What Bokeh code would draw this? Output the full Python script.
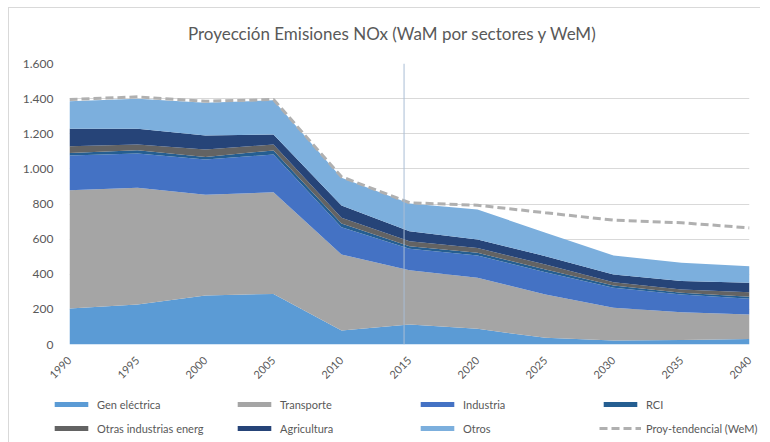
import math
from bokeh.plotting import figure
from bokeh.layouts import column
from bokeh.models import (ColumnDataSource, FixedTicker, Span, Legend, LegendItem, Range1d)
from bokeh.core.properties import value
from bokeh.embed import file_html
from bokeh.resources import INLINE

# ---------------- data ----------------
years = [1990, 1995, 2000, 2005, 2010, 2015, 2020, 2025, 2030, 2035, 2040]
gen_electrica = [205, 228, 279, 288, 80, 114, 89, 38, 23, 25, 32]
transporte = [674, 664, 573, 579, 432, 309, 291, 247, 186, 159, 139]
industria = [197, 195, 201, 215, 156, 122, 127, 127, 114, 101, 89]
rci = [15, 19, 15, 23, 21, 15, 15, 15, 13, 9, 12]
otras_ind = [38, 33, 42, 34, 32, 28, 28, 28, 19, 19, 26]
agricultura = [99, 89, 80, 57, 70, 57, 48, 48, 44, 48, 53]
otros = [157, 171, 186, 195, 158, 158, 171, 133, 108, 104, 95]
wem = [1395, 1410, 1385, 1395, 955, 807, 793, 750, 708, 693, 664]

series_names = ["gen", "transp", "ind", "rci", "otras", "agri", "otros"]
series_labels = ["Gen eléctrica", "Transporte", "Industria", "RCI",
                 "Otras industrias energ", "Agricultura", "Otros"]
series_colors = ["#5b9bd5", "#a5a5a5", "#4472c4", "#255e91",
                 "#636363", "#264478", "#7cafdd"]
wem_label = "Proy-tendencial (WeM)"
wem_color = "#b0b0b0"
y_ticks = [0, 200, 400, 600, 800, 1000, 1200, 1400, 1600]
y_tick_labels = ["0", "200", "400", "600", "800", "1.000", "1.200", "1.400", "1.600"]
x_ticks = years
marker_year = 2014.6
title_text = "Proyección Emisiones NOx (WaM por sectores y WeM)"

FONT = "Lato"
GREY = "#595959"
BORDER = "1px solid #d9d9d9"
W = 752

src = ColumnDataSource(dict(year=years, gen=gen_electrica, transp=transporte,
                            ind=industria, rci=rci, otras=otras_ind,
                            agri=agricultura, otros=otros, wem=wem))

# ---------------- title strip ----------------
TH = 48
pt = figure(width=W, height=TH, x_range=Range1d(0, W), y_range=Range1d(0, TH),
            output_backend="svg", toolbar_location=None,
            x_axis_location=None, y_axis_location=None,
            min_border=0)
pt.frame_align = False
pt.margin = (7, 0, 0, 8)
pt.styles = {"border-left": BORDER, "border-top": BORDER}
pt.outline_line_color = None
pt.grid.visible = False
pt.text(x=[383], y=[23], text=[title_text], text_font=value(FONT),
        text_font_size=value("17px"), text_align="center",
        text_baseline="middle", text_color=GREY)

# ---------------- main chart ----------------
p = figure(frame_width=679, frame_height=281,
           x_range=Range1d(1990, 2040), y_range=Range1d(0, 1600),
           output_backend="svg", toolbar_location=None,
           min_border_left=60, min_border_right=13,
           min_border_top=8, min_border_bottom=33)
p.margin = (0, 0, 0, 8)
p.styles = {"border-left": BORDER}
p.outline_line_color = None

areas = p.varea_stack(stackers=series_names, x="year", color=series_colors,
                      source=src)
wem_line = p.line(x="year", y="wem", source=src, line_color=wem_color,
                  line_width=3, line_dash="8 4")

p.add_layout(Span(location=marker_year, dimension="height",
                  line_color="#a9bdd6", line_width=1))

p.xgrid.grid_line_color = None
p.ygrid.grid_line_color = "#d9d9d9"
p.yaxis.ticker = FixedTicker(ticks=y_ticks)
p.yaxis.major_label_overrides = {t: l for t, l in zip(y_ticks, y_tick_labels)}
p.xaxis.ticker = FixedTicker(ticks=x_ticks)
p.xaxis.major_label_orientation = math.pi / 4
for ax in (p.xaxis, p.yaxis):
    ax.axis_line_color = None
    ax.major_tick_line_color = None
    ax.minor_tick_line_color = None
    ax.major_label_text_font = FONT
    ax.major_label_text_color = GREY
p.yaxis.major_label_text_font_size = "12px"
p.xaxis.major_label_text_font_size = "11px"
p.yaxis.major_label_standoff = 10
p.xaxis.major_label_standoff = 8

# ---------------- legend strip ----------------
LH = 60
pl = figure(width=W, height=LH, x_range=Range1d(0, W), y_range=Range1d(0, LH),
            output_backend="svg", toolbar_location=None,
            x_axis_location=None, y_axis_location=None, min_border=0)
pl.frame_align = False
pl.margin = (0, 0, 0, 8)
pl.styles = {"border-left": BORDER}
pl.outline_line_color = None
pl.grid.visible = False

# legend-only renderers, placed outside the visible range
items = []
for lab, col in zip(series_labels, series_colors):
    r = pl.varea(x=[-20, -10], y1=[0, 0], y2=[1, 1], fill_color=col)
    items.append(LegendItem(label=lab, renderers=[r]))
rl = pl.line(x=[-20, -10], y=[0, 0], line_color=wem_color, line_width=3,
             line_dash="8 4")
items.append(LegendItem(label=wem_label, renderers=[rl]))

legend = Legend(items=items, ncols=4, orientation="horizontal",
                location=(41, 8), glyph_width=42, glyph_height=6,
                label_standoff=5, label_width=130, label_height=18,
                spacing=6, padding=0, margin=0,
                label_text_font=FONT, label_text_font_size="11px",
                label_text_color=GREY, border_line_color=None,
                background_fill_alpha=0)
pl.add_layout(legend, "center")

layout = column(pt, p, pl, spacing=0)
open("out.html", "w").write(file_html(layout, INLINE))
